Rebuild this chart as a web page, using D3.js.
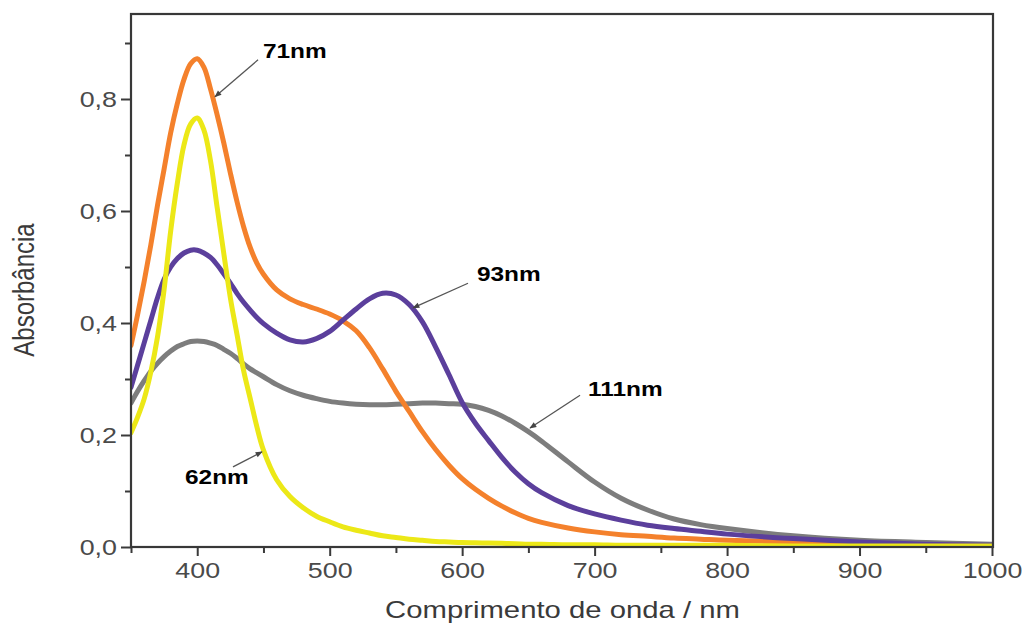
<!DOCTYPE html>
<html><head><meta charset="utf-8">
<script src="https://cdn.jsdelivr.net/npm/d3@7"></script>
<style>
html,body{margin:0;padding:0;background:#fff;}
svg{display:block;font-family:"Liberation Sans",Arial,sans-serif;}
</style></head>
<body><svg id="c" width="1029" height="624"></svg>
<script>
const wavelengths = [350,355,360,365,370,375,380,385,390,395,400,405,410,415,420,425,430,435,440,445,450,460,470,480,490,500,510,520,530,540,550,560,570,580,590,600,610,620,630,640,650,660,680,700,720,740,760,780,800,850,900,950,1000];
const orange71 = [0.36,0.415,0.475,0.54,0.61,0.675,0.74,0.792,0.835,0.863,0.872,0.857,0.818,0.772,0.722,0.668,0.617,0.572,0.535,0.507,0.487,0.459,0.443,0.433,0.425,0.416,0.404,0.386,0.356,0.318,0.278,0.242,0.206,0.174,0.146,0.122,0.103,0.087,0.073,0.061,0.051,0.044,0.034,0.027,0.022,0.019,0.016,0.014,0.012,0.009,0.006,0.004,0.002];
const purple93 = [0.285,0.325,0.365,0.405,0.445,0.478,0.5,0.515,0.525,0.53,0.53,0.525,0.517,0.504,0.488,0.471,0.453,0.437,0.423,0.41,0.399,0.382,0.37,0.366,0.372,0.385,0.405,0.425,0.443,0.453,0.45,0.433,0.402,0.357,0.308,0.258,0.221,0.19,0.16,0.134,0.113,0.097,0.074,0.059,0.048,0.039,0.033,0.028,0.023,0.015,0.009,0.005,0.003];
const gray111 = [0.257,0.278,0.297,0.314,0.328,0.34,0.35,0.358,0.363,0.367,0.368,0.367,0.364,0.36,0.353,0.346,0.337,0.327,0.318,0.311,0.304,0.29,0.279,0.271,0.265,0.26,0.257,0.255,0.254,0.254,0.255,0.256,0.257,0.257,0.256,0.255,0.251,0.244,0.234,0.221,0.206,0.189,0.152,0.116,0.087,0.066,0.05,0.04,0.033,0.02,0.012,0.008,0.005];
const yellow62 = [0.204,0.232,0.265,0.313,0.375,0.46,0.565,0.65,0.718,0.755,0.766,0.745,0.69,0.607,0.525,0.445,0.38,0.315,0.265,0.215,0.173,0.12,0.09,0.07,0.055,0.045,0.036,0.03,0.025,0.02,0.017,0.014,0.012,0.01,0.009,0.008,0.0075,0.007,0.0065,0.006,0.005,0.005,0.004,0.004,0.003,0.003,0.003,0.003,0.003,0.002,0.002,0.002,0.002];
const seriesNames = ["111nm","71nm","93nm","62nm"];
const seriesColors = ["#7d7d7d","#f4812c","#5b3f9c","#ece817"];
const xMajorTicks = [400,500,600,700,800,900,1000];
const xMinorTicks = [350,450,550,650,750,850,950];
const yMajorTicks = [0,0.2,0.4,0.6,0.8];
const yMinorTicks = [0.1,0.3,0.5,0.7,0.9];
// annotations: label, label anchor (wavelength, absorbance), arrow start, arrow end
const annLabels = ["71nm","93nm","111nm","62nm"];
const annText = [[449.6,0.873],[611.2,0.475],[695,0.27],[390.8,0.1125]];
const annFrom = [[445.9,0.870],[604.4,0.471],[689,0.271],[427,0.143]];
const annTo = [[413.4,0.804],[562.9,0.427],[651.2,0.2125],[448.9,0.170]];
const xTitle = "Comprimento de onda / nm";
const yTitle = "Absorbância";

const svg = d3.select("#c");
const L=131, R=992, T=14, B=547;
const x = d3.scaleLinear().domain([350,1000]).range([L,R]);
const y = d3.scaleLinear().domain([0,0.8]).range([B,99]);

const stretch = 1.22;
function stretchText(sel){
  sel.each(function(){
    const w = this.getComputedTextLength();
    d3.select(this).attr("textLength", w*stretch).attr("lengthAdjust","spacingAndGlyphs");
  });
}

// curves
const series = [gray111, orange71, purple93, yellow62];
const line = d3.line().x((d,i)=>x(wavelengths[i])).y(d=>y(d)).curve(d3.curveCatmullRom.alpha(0.5));
svg.append("clipPath").attr("id","pc").append("rect")
  .attr("x",L).attr("y",T).attr("width",R-L+1).attr("height",B-T);
svg.append("g").attr("clip-path","url(#pc)").selectAll("path").data(series).join("path")
  .attr("d",d=>line(d)).attr("fill","none")
  .attr("stroke",(d,i)=>seriesColors[i]).attr("stroke-width",5)
  .attr("stroke-linejoin","round").attr("stroke-linecap","round");

// axes
const tickCol="#3a3a3a";
const gx = svg.append("g").attr("transform",`translate(0,${B})`);
gx.call(d3.axisBottom(x).tickValues(xMajorTicks).tickSize(9).tickPadding(6).tickFormat(d3.format("d")));
const gxm = svg.append("g").attr("transform",`translate(0,${B})`);
gxm.call(d3.axisBottom(x).tickValues(xMinorTicks).tickSize(6).tickFormat(""));
const gy = svg.append("g").attr("transform",`translate(${L},0)`);
gy.call(d3.axisLeft(y).tickValues(yMajorTicks).tickSize(10).tickPadding(4).tickFormat(d=>d3.format(".1f")(d).replace(".",",")));
const gym = svg.append("g").attr("transform",`translate(${L},0)`);
gym.call(d3.axisLeft(y).tickValues(yMinorTicks).tickSize(6).tickFormat(""));
[gx,gxm,gy,gym].forEach(g=>{
  g.select(".domain").remove();
  g.selectAll(".tick line").attr("stroke",tickCol).attr("stroke-width",2);
  g.selectAll("text").attr("fill","#4a4a4a").style("font-size","22px").style("font-family","Liberation Sans, Arial, sans-serif");
});
gx.selectAll("text").attr("dy","0.72em");
gx.selectAll("text").call(stretchText);
gy.selectAll("text").attr("dy","0.36em");
gy.selectAll("text").call(stretchText);

// frame
svg.append("rect").attr("x",L).attr("y",T).attr("width",R-L+1).attr("height",B-T)
  .attr("fill","none").attr("stroke","#383838").attr("stroke-width",2.2);

// titles
svg.append("text").attr("x",(L+R)/2+1).attr("y",618).attr("text-anchor","middle")
  .attr("fill","#3a3a3a").style("font-size","24px").text(xTitle).call(stretchText);
svg.append("g").attr("transform","translate(34,290) scale(1.25,1)")
  .append("text").attr("transform","rotate(-90)").attr("text-anchor","middle")
  .attr("fill","#3a3a3a").style("font-size","24px").text(yTitle);

// arrows
const defs = svg.append("defs");
defs.append("marker").attr("id","ah").attr("viewBox","0 0 10 10").attr("refX",9).attr("refY",5)
  .attr("markerWidth",9).attr("markerHeight",7).attr("orient","auto-start-reverse")
  .attr("markerUnits","userSpaceOnUse")
  .append("path").attr("d","M0,1 L10,5 L0,9 Z").attr("fill","#444");
svg.append("g").selectAll("line").data(annLabels).join("line")
  .attr("x1",(d,i)=>x(annFrom[i][0])).attr("y1",(d,i)=>y(annFrom[i][1]))
  .attr("x2",(d,i)=>x(annTo[i][0])).attr("y2",(d,i)=>y(annTo[i][1]))
  .attr("stroke","#555").attr("stroke-width",1.3).attr("marker-end","url(#ah)");
svg.append("g").selectAll("text").data(annLabels).join("text")
  .attr("x",(d,i)=>x(annText[i][0])).attr("y",(d,i)=>y(annText[i][1]))
  .attr("fill","#000").style("font-size","20px").style("font-weight","bold")
  .text(d=>d).call(stretchText);
</script></body></html>
